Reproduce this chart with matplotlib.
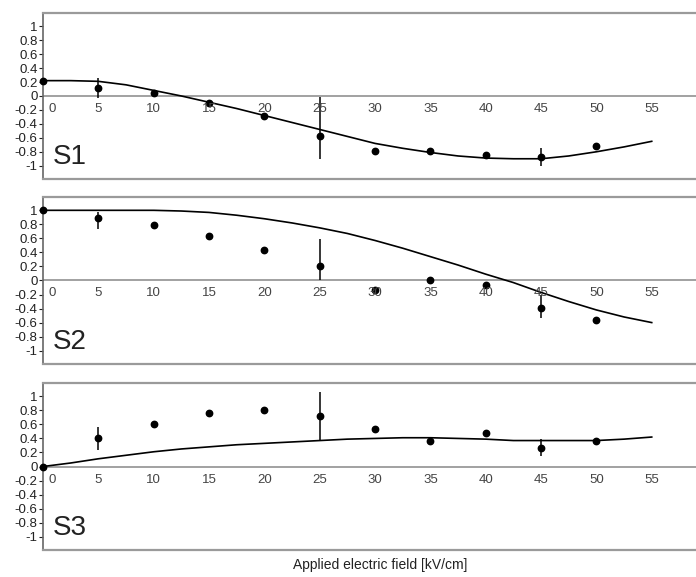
import matplotlib
matplotlib.use('Agg')
import matplotlib.pyplot as plt
import numpy as np

plt.rcParams['font.family'] = ['Liberation Sans', 'DejaVu Sans']

# измеренные точки (поле в кВ/см)
fieldPts = [0, 5, 10, 15, 20, 25, 30, 35, 40, 45, 50]
s1Pts = [0.22, 0.12, 0.04, -0.10, -0.29, -0.57, -0.79, -0.79, -0.85, -0.87, -0.72]
s2Pts = [1.00, 0.89, 0.79, 0.63, 0.43, 0.20, -0.13, 0.00, -0.06, -0.39, -0.56]
s3Pts = [0.00, 0.41, 0.60, 0.76, 0.81, 0.72, 0.54, 0.36, 0.48, 0.26, 0.37]

# ошибки (низ, верх) только там, где они нарисованы
errIdx = [1, 5, 9]
s1Err = [(0.15, 0.14), (0.34, 0.56), (0.13, 0.13)]
s2Err = [(0.16, 0.08), (0.20, 0.39), (0.14, 0.19)]
s3Err = [(0.17, 0.15), (0.35, 0.34), (0.11, 0.13)]

# теоретические кривые
fieldCurve = [0, 2.5, 5, 7.5, 10, 12.5, 15, 17.5, 20, 22.5, 25, 27.5,
              30, 32.5, 35, 37.5, 40, 42.5, 45, 47.5, 50, 52.5, 55]
s1Curve = [0.22, 0.22, 0.21, 0.16, 0.08, 0.0, -0.09, -0.18, -0.28, -0.38, -0.48, -0.58,
           -0.68, -0.75, -0.81, -0.86, -0.89, -0.90, -0.90, -0.86, -0.80, -0.73, -0.65]
s2Curve = [1.0, 1.0, 1.0, 1.0, 1.0, 0.99, 0.97, 0.93, 0.88, 0.82, 0.75, 0.67,
           0.57, 0.46, 0.34, 0.22, 0.09, -0.03, -0.17, -0.30, -0.42, -0.52, -0.60]
s3Curve = [0.0, 0.05, 0.11, 0.16, 0.21, 0.25, 0.28, 0.31, 0.33, 0.35, 0.37, 0.39,
           0.40, 0.41, 0.41, 0.40, 0.39, 0.37, 0.37, 0.37, 0.37, 0.39, 0.42]

names = ['S1', 'S2', 'S3']
yTicks = [1, 0.8, 0.6, 0.4, 0.2, 0, -0.2, -0.4, -0.6, -0.8, -1]
yTickLabels = ['1', '0.8', '0.6', '0.4', '0.2', '0', '-0.2', '-0.4', '-0.6', '-0.8', '-1']
xTicks = [0, 5, 10, 15, 20, 25, 30, 35, 40, 45, 50, 55]

fig = plt.figure(figsize=(6.96, 5.77), dpi=100)
# позиции панелей в долях фигуры
boxes = [[0.0618, 0.6898, 0.9382, 0.2877],
         [0.0618, 0.3692, 0.9382, 0.2894],
         [0.0618, 0.0468, 0.9382, 0.2894]]

pts = [s1Pts, s2Pts, s3Pts]
errs = [s1Err, s2Err, s3Err]
curves = [s1Curve, s2Curve, s3Curve]
grey = '#9a9a9a'

for c in range(3):
	ax = fig.add_axes(boxes[c])
	ax.set_xlim(0, 59)
	ax.set_ylim(-1.19, 1.19)
	ax.axhline(0, color=grey, linewidth=1.3, zorder=1)
	ax.plot(fieldCurve, curves[c], color='black', linewidth=1.2, zorder=2)
	ax.plot(fieldPts, pts[c], 'o', color='black', markersize=4.6, zorder=3, clip_on=False)
	ex = [fieldPts[i] for i in errIdx]
	ey = [pts[c][i] for i in errIdx]
	lo = [e[0] for e in errs[c]]
	hi = [e[1] for e in errs[c]]
	ax.errorbar(ex, ey, yerr=[lo, hi], fmt='none', ecolor='black', elinewidth=1.1, capsize=0, zorder=3)

	# подписи оси x рисуются прямо под нулевой линией
	for xt in xTicks:
		xx = xt + 0.8 if xt == 0 else xt
		ax.text(xx, -0.1, str(xt), ha='center', va='top', fontsize=9.5, color='#444444')
	ax.set_xticks([])

	ax.set_yticks(yTicks)
	ax.set_yticklabels(yTickLabels, fontsize=9.5)
	ax.tick_params(axis='y', direction='out', length=3, width=0.8, pad=1, colors='#222222')

	for s in ['top', 'bottom']:
		ax.spines[s].set_color(grey)
		ax.spines[s].set_linewidth(1.6)
	ax.spines['left'].set_color('#666666')
	ax.spines['left'].set_linewidth(1.2)
	ax.spines['right'].set_visible(False)

	ax.text(0.9, -0.88, names[c], fontsize=20, ha='left', va='center', color='#222222')

fig.text(0.546, 0.02, 'Applied electric field [kV/cm]', ha='center', va='center', fontsize=10, color='#222222')

plt.savefig('out.png', dpi=100)
